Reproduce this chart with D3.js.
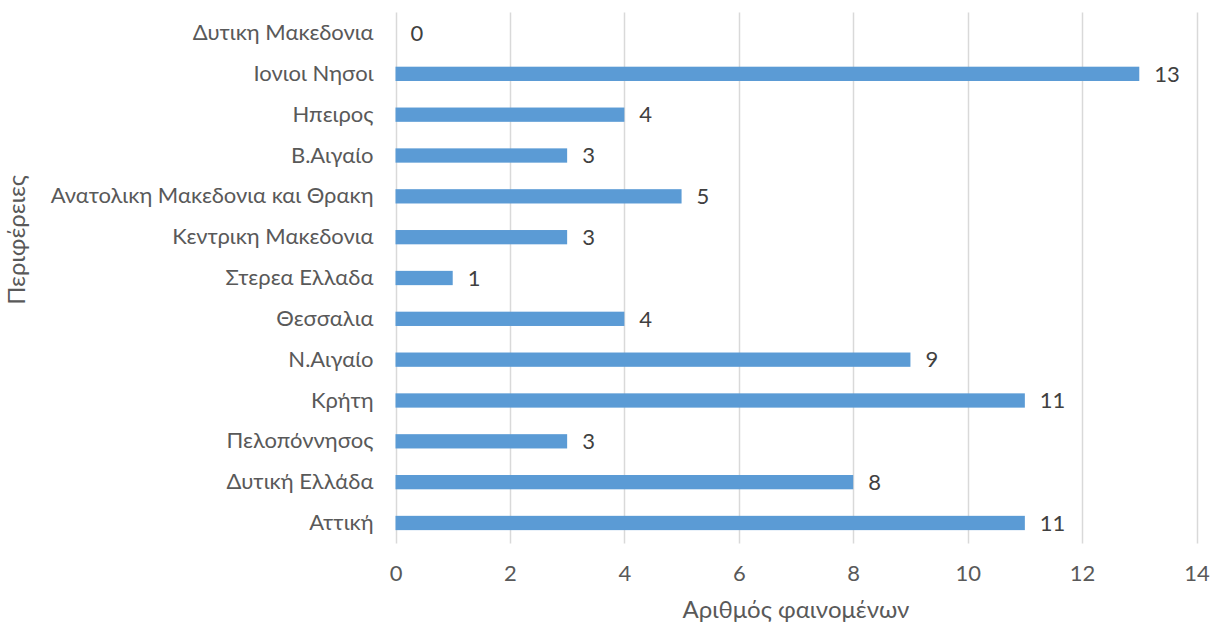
<!DOCTYPE html>
<html>
<head>
<meta charset="utf-8">
<script src="https://cdn.jsdelivr.net/npm/d3@7"></script>
<style>
  html, body { margin: 0; padding: 0; background: #fff; }
  svg { display: block; font-family: Lato, "Open Sans", sans-serif; }
</style>
</head>
<body>
<svg id="chart" width="1212" height="626"></svg>
<script>
// Regions, listed top to bottom as drawn
const regions = [
  "Δυτικη Μακεδονια",
  "Ιονιοι Νησοι",
  "Ηπειρος",
  "Β.Αιγαίο",
  "Ανατολικη Μακεδονια και Θρακη",
  "Κεντρικη Μακεδονια",
  "Στερεα Ελλαδα",
  "Θεσσαλια",
  "Ν.Αιγαίο",
  "Κρήτη",
  "Πελοπόννησος",
  "Δυτική Ελλάδα",
  "Αττική"
];
// Number of events per region
const counts = [0, 13, 4, 3, 5, 3, 1, 4, 9, 11, 3, 8, 11];
// Horizontal axis ticks
const xTicks = [0, 2, 4, 6, 8, 10, 12, 14];

const xTitle = "Αριθμός φαινομένων";
const yTitle = "Περιφέρειες";

const svg = d3.select("#chart");
const plot = { left: 395.5, right: 1196.5, top: 12.6, bottom: 543.4 };
const textColor = "#595959";
const fontSize = 22;
const titleSize = 24;

const x = d3.scaleLinear().domain([0, 14]).range([plot.left, plot.right]);
const y = d3.scaleBand().domain(regions).range([plot.top, plot.bottom])
  .paddingInner(0.65).paddingOuter(0.325);

// Vertical gridlines
svg.append("g").selectAll("line").data(xTicks).join("line")
  .attr("x1", d => Math.round(x(d)) + 0.5).attr("x2", d => Math.round(x(d)) + 0.5)
  .attr("y1", plot.top).attr("y2", plot.bottom)
  .attr("stroke", "#d9d9d9").attr("stroke-width", 1.5);

// Bars
const data = regions.map((r, i) => ({ region: r, value: counts[i] }));
svg.append("g").selectAll("rect").data(data).join("rect")
  .attr("x", x(0)).attr("y", d => y(d.region))
  .attr("width", d => x(d.value) - x(0)).attr("height", y.bandwidth())
  .attr("fill", "#5b9bd5");

// Value labels
svg.append("g").selectAll("text").data(data).join("text")
  .attr("x", d => x(d.value) + 15)
  .attr("y", d => y(d.region) + y.bandwidth() / 2)
  .attr("dy", "0.35em")
  .attr("font-size", fontSize).attr("fill", "#404040")
  .text(d => d.value);

// Category axis
const yAxis = d3.axisLeft(y).tickSize(0).tickPadding(0);
const gy = svg.append("g").attr("transform", `translate(${plot.left - 22},0)`).call(yAxis);
gy.select(".domain").remove();
gy.selectAll("text").attr("font-size", fontSize).attr("fill", textColor);
gy.attr("font-family", null).attr("font-size", null);

// Value axis
const xAxis = d3.axisBottom(x).tickValues(xTicks).tickSize(0).tickPadding(0);
const gx = svg.append("g").attr("transform", `translate(0,${plot.bottom + 22})`).call(xAxis);
gx.select(".domain").remove();
gx.selectAll("text").attr("font-size", fontSize).attr("fill", textColor);
gx.attr("font-family", null).attr("font-size", null);

// Axis titles
svg.append("text").attr("x", 796).attr("y", 618)
  .attr("text-anchor", "middle").attr("font-size", titleSize).attr("fill", textColor)
  .text(xTitle);
svg.append("text").attr("transform", "translate(25,240) rotate(-90)")
  .attr("text-anchor", "middle").attr("font-size", titleSize).attr("fill", textColor)
  .text(yTitle);
</script>
</body>
</html>
